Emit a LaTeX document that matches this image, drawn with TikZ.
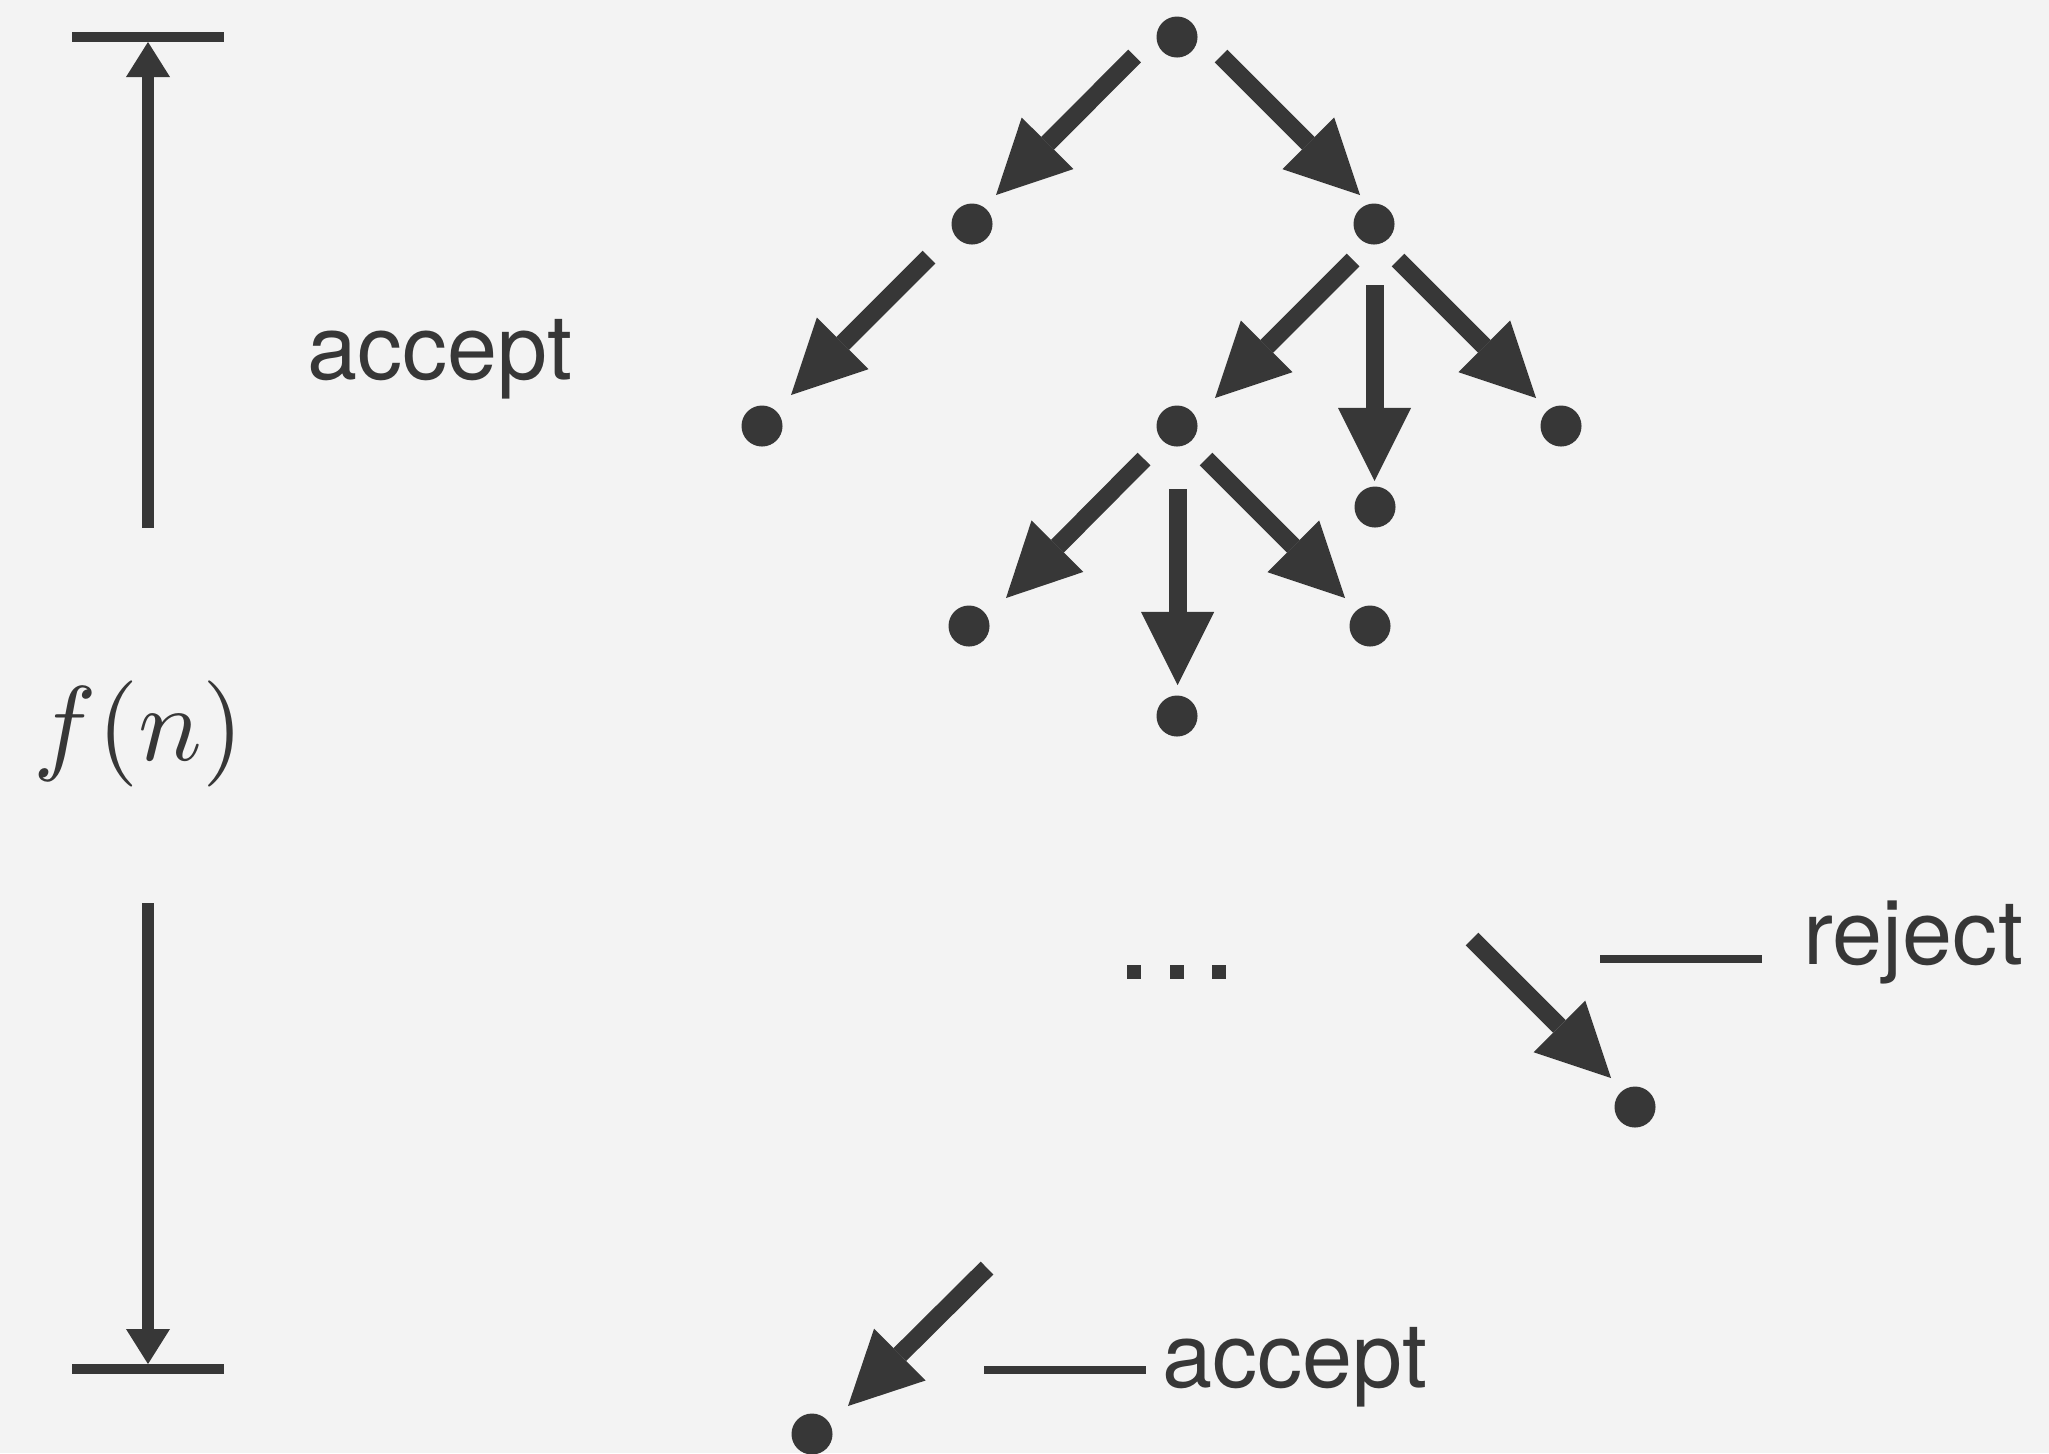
\documentclass[tikz,border=0pt]{standalone}
\usepackage[no-math]{fontspec}
\usetikzlibrary{arrows.meta}
\newfontfamily\labelfont{TeX Gyre Heros}
\definecolor{ink}{HTML}{373737}
\definecolor{paper}{HTML}{F3F3F3}
\tikzset{
  vertex/.style={circle, fill=ink, minimum size=0.41cm, inner sep=0pt},
  edgearrow/.style={draw=ink, line width=0.18cm, -{Triangle[width=0.73cm,length=0.73cm,line width=0pt]}},
  spanarrow/.style={draw=ink, line width=0.11cm, -{Triangle[width=0.44cm,length=0.35cm,line width=0pt]}},
  capbar/.style={draw=ink, line width=0.10cm},
  leader/.style={draw=ink, line width=0.08cm},
  tag/.style={text=ink, inner sep=0pt, anchor=base west, font=\labelfont\fontsize{25.6pt}{30pt}\selectfont},
}
\begin{document}
\begin{tikzpicture}[x=0.01cm, y=-0.01cm]
  % canvas
  \fill[paper] (0,0) rectangle (2049,1453);
  \useasboundingbox (0,0) rectangle (2049,1453);

  % computation tree vertices
  \node[vertex] (r) at (1177,37)  {};
  \node[vertex] (a) at (972,224)  {};
  \node[vertex] (b) at (1374,224) {};
  \node[vertex] (c) at (762,426)  {};
  \node[vertex] (d) at (1177,426) {};
  \node[vertex] (e) at (1561,426) {};
  \node[vertex] (g) at (1375,507) {};
  \node[vertex] (h) at (969,626)  {};
  \node[vertex] (i) at (1177,716) {};
  \node[vertex] (j) at (1370,626) {};
  \node[vertex] (k) at (1635,1107){};
  \node[vertex] (m) at (812,1434) {};

  % arrow end points (tails and tips)
  \coordinate (ra-s) at (1134.6,56);  \coordinate (ra-t) at (996,195);
  \coordinate (rb-s) at (1221,56);    \coordinate (rb-t) at (1360,195);
  \coordinate (ac-s) at (929,257);    \coordinate (ac-t) at (791,395);
  \coordinate (bd-s) at (1353,260);   \coordinate (bd-t) at (1215,398);
  \coordinate (bg-s) at (1374.5,285); \coordinate (bg-t) at (1374.5,481);
  \coordinate (be-s) at (1398,260);   \coordinate (be-t) at (1536,398);
  \coordinate (dh-s) at (1144,459);   \coordinate (dh-t) at (1006,598);
  \coordinate (di-s) at (1177.6,489); \coordinate (di-t) at (1177.6,685);
  \coordinate (dj-s) at (1206,459);   \coordinate (dj-t) at (1345,598);
  \coordinate (k-s)  at (1472,939);   \coordinate (k-t)  at (1611,1078);
  \coordinate (m-s)  at (987,1268);   \coordinate (m-t)  at (848,1406);

  \draw[edgearrow] (ra-s) -- (ra-t);
  \draw[edgearrow] (rb-s) -- (rb-t);
  \draw[edgearrow] (ac-s) -- (ac-t);
  \draw[edgearrow] (bd-s) -- (bd-t);
  \draw[edgearrow] (bg-s) -- (bg-t);
  \draw[edgearrow] (be-s) -- (be-t);
  \draw[edgearrow] (dh-s) -- (dh-t);
  \draw[edgearrow] (di-s) -- (di-t);
  \draw[edgearrow] (dj-s) -- (dj-t);
  \draw[edgearrow] (k-s) -- (k-t);
  \draw[edgearrow] (m-s) -- (m-t);

  % ellipsis between the levels
  \fill[ink] (1127,965) rectangle (1141,979);
  \fill[ink] (1170,965) rectangle (1184,979);
  \fill[ink] (1212,965) rectangle (1226,979);

  % height bracket on the left
  \coordinate (bt-l) at (72,37);   \coordinate (bt-r) at (224,37);
  \coordinate (bb-l) at (72,1369); \coordinate (bb-r) at (224,1369);
  \coordinate (up-s) at (148,528); \coordinate (up-t) at (148,42);
  \coordinate (dn-s) at (148,903); \coordinate (dn-t) at (148,1364);
  \draw[capbar] (bt-l) -- (bt-r);
  \draw[capbar] (bb-l) -- (bb-r);
  \draw[spanarrow] (up-s) -- (up-t);
  \draw[spanarrow] (dn-s) -- (dn-t);
  \node[text=ink, inner sep=0pt, anchor=base west] (fn) at (33,760) {\scalebox{3.02}{$f(n)$}};

  % labels
  \node[tag] (acc1) at (307,379) {accept};
  \coordinate (rj-l) at (1600,959); \coordinate (rj-r) at (1762,959);
  \draw[leader] (rj-l) -- (rj-r);
  \node[tag] (rej) at (1803,964) {reject};
  \coordinate (ac-l) at (984,1370); \coordinate (ac-r) at (1146,1370);
  \draw[leader] (ac-l) -- (ac-r);
  \node[tag] (acc2) at (1162,1387) {accept};
\end{tikzpicture}
\end{document}
